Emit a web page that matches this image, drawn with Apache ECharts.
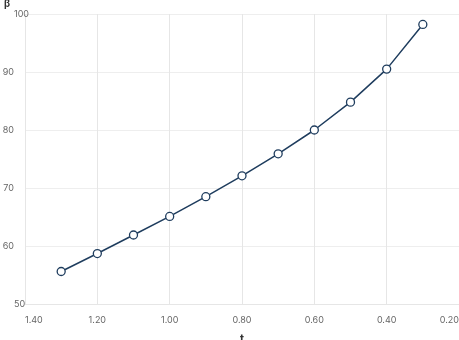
<!DOCTYPE html>
<html>
<head>
<meta charset="utf-8">
<script src="https://cdn.jsdelivr.net/npm/echarts@6/dist/echarts.min.js"></script>
<style>html,body{margin:0;padding:0;background:#fff}#c{width:459px;height:340px}</style>
</head>
<body>
<div id="c"></div>
<script>
var tValues = [1.3, 1.2, 1.1, 1.0, 0.9, 0.8, 0.7, 0.6, 0.5, 0.4, 0.3];
var betaValues = [55.6, 58.7, 61.9, 65.1, 68.5, 72.1, 75.9, 80.0, 84.8, 90.5, 98.2];
var xAxisName = 't';
var yAxisName = 'β';

var chart = echarts.init(document.getElementById('c'));
var font = '"Inter", "Noto Sans", sans-serif';
chart.setOption({
  animation: false,
  grid: {left: 25, right: 0, top: 14, bottom: 36, containLabel: false, outerBoundsMode: 'none'},
  xAxis: {
    type: 'value', inverse: true, min: 0.2, max: 1.4, interval: 0.2,
    name: xAxisName, nameLocation: 'middle', nameGap: 29,
    nameTextStyle: {color: '#333', fontSize: 11, fontWeight: 'bold', fontFamily: font},
    axisLine: {show: true, lineStyle: {color: '#e6e6e6'}},
    axisTick: {show: false},
    splitLine: {show: true, lineStyle: {color: '#e6e6e6'}},
    axisLabel: {color: '#666', fontSize: 9, fontFamily: font, margin: 12,
      alignMinLabel: 'right', alignMaxLabel: 'left',
      formatter: function (v) { return v.toFixed(2); }}
  },
  yAxis: {
    type: 'value', min: 50, max: 100, interval: 10,
    name: yAxisName, nameLocation: 'end', nameGap: 5,
    nameTextStyle: {color: '#333', fontSize: 10, fontWeight: 'bold', fontFamily: font, align: 'right', padding: [0, 15, 0, 0]},
    axisLine: {show: false},
    axisTick: {show: false},
    splitLine: {show: true, lineStyle: {color: '#eeeeee'}},
    axisLabel: {color: '#666', fontSize: 9, fontFamily: font, margin: 11,
      alignMinLabel: 'bottom', alignMaxLabel: 'top'}
  },
  series: [{
    type: 'line',
    data: tValues.map(function (t, i) { return [t, betaValues[i]]; }),
    symbol: 'circle', symbolSize: 8,
    lineStyle: {color: '#1f3d5e', width: 1.5},
    itemStyle: {color: '#ffffff', borderColor: '#1f3d5e', borderWidth: 1.3}
  }]
});
</script>
</body>
</html>
